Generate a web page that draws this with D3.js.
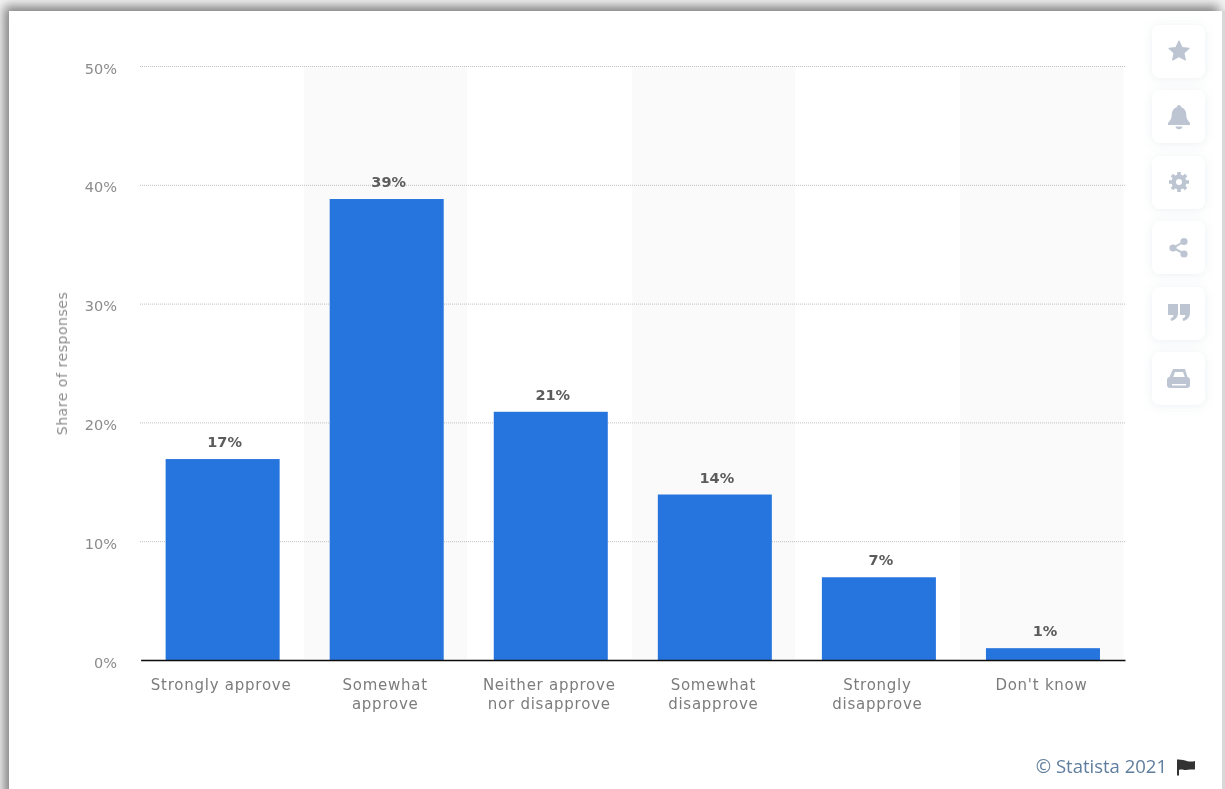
<!DOCTYPE html>
<html><head><meta charset="utf-8">
<script src="https://cdn.jsdelivr.net/npm/d3@7/dist/d3.min.js"></script>
<style>
html,body{margin:0;padding:0;background:#fff;overflow:hidden}
svg{display:block}
text{font-family:"DejaVu Sans",sans-serif}
</style></head><body>
<svg id="c" width="1225" height="789"></svg>
<script>
const categories=["Strongly approve","Somewhat approve","Neither approve nor disapprove","Somewhat disapprove","Strongly disapprove","Don't know"];
const categoryLines=[["Strongly approve"],["Somewhat","approve"],["Neither approve","nor disapprove"],["Somewhat","disapprove"],["Strongly","disapprove"],["Don't know"]];
const values=[17,39,21,14,7,1];
const yTicks=[0,10,20,30,40,50];
const valueSuffix="%";
const sourceText="© Statista 2021";
const axisTitle="Share of responses";

const svg=d3.select("#c");
const defs=svg.append("defs");
const f=defs.append("filter").attr("id","frame").attr("filterUnits","userSpaceOnUse").attr("x",-60).attr("y",-60).attr("width",1345).attr("height",909);
f.append("feGaussianBlur").attr("stdDeviation",5.5);
const sh=defs.append("filter").attr("id","btn").attr("x","-40%").attr("y","-40%").attr("width","180%").attr("height","180%");
sh.append("feDropShadow").attr("dx",0).attr("dy",1).attr("stdDeviation",5).attr("flood-color","#8a97a8").attr("flood-opacity",.16);
const soft=defs.append("filter").attr("id","soft").attr("x","-2%").attr("y","-2%").attr("width","104%").attr("height","104%");
soft.append("feGaussianBlur").attr("stdDeviation",.45);

// window frame: a soft shadow around the white page
svg.append("rect").attr("width",1225).attr("height",789).attr("fill","#f4f4f4");
svg.append("rect").attr("x",4).attr("y",6).attr("width",1215).attr("height",810).attr("fill","#808080").attr("filter","url(#frame)");
svg.append("rect").attr("x",9).attr("y",11).attr("width",1213).attr("height",790).attr("fill","#fff");
svg.append("rect").attr("x",1222).attr("y",11).attr("width",3).attr("height",778).attr("fill","#d8d8d8");

const x=d3.scaleBand().domain(categories).range([140.6,1125]).paddingInner(0.305).paddingOuter(0.1525);
const y=d3.scaleLinear().domain([0,50]).range([660.5,66.5]);
const barY=d3.scaleLinear().domain([0,50]).range([660,69]);
const step=x.step();
const g=svg.append("g").attr("filter","url(#soft)");

// alternate bands
g.selectAll(".band").data(categories.filter((d,i)=>i%2==1)).join("rect")
 .attr("x",d=>x(d)-(step-x.bandwidth())/2-.6).attr("y",y(50)).attr("width",step-1).attr("height",y(0)-y(50)).attr("fill","#fafafa");

// y axis + gridlines
const ya=g.append("g").attr("transform","translate(140,0)").call(d3.axisLeft(y).tickValues(yTicks).tickFormat(d=>d+valueSuffix).tickSize(0).tickPadding(23));
ya.select(".domain").remove();
ya.selectAll("text").attr("font-size",14.5).attr("dy","0.45em").attr("fill","#8b8b8b").style("font-family",'"DejaVu Sans",sans-serif');
g.selectAll(".grid").data(yTicks.filter(d=>d>0)).join("line")
 .attr("x1",140).attr("x2",1125).attr("y1",d=>y(d)).attr("y2",d=>y(d))
 .attr("stroke","#c0c0c0").attr("stroke-width",1).attr("stroke-dasharray","1 1");

// bars
g.selectAll(".bar").data(values).join("rect")
 .attr("x",(d,i)=>x(categories[i])).attr("y",d=>barY(d)).attr("width",x.bandwidth()).attr("height",d=>barY(0)-barY(d)).attr("fill","#2775de");

// value labels
g.selectAll(".val").data(values).join("text")
 .attr("x",(d,i)=>x(categories[i])+x.bandwidth()/2+2).attr("y",d=>barY(d)-12)
 .attr("text-anchor","middle").attr("font-size",14.5).attr("font-weight",700).attr("fill","#5c5c5c")
 .text(d=>d+valueSuffix);

// x axis
const xa=g.append("g").attr("transform","translate(0,660)").call(d3.axisBottom(x).tickSize(0).tickFormat(""));
xa.select(".domain").attr("stroke","#111").attr("stroke-width",1.6);
xa.selectAll(".tick text").remove();
g.selectAll(".xl").data(categories).join("text")
 .attr("text-anchor","middle").attr("font-size",15).attr("letter-spacing",".75").attr("fill","#7c7c7c")
 .each(function(d,i){
   d3.select(this).selectAll("tspan").data(categoryLines[i]).join("tspan")
     .attr("x",x(d)+x.bandwidth()/2-1.500).attr("y",(l,j)=>690+j*19).text(l=>l);
 });

// axis title
g.append("text").attr("transform","translate(67,363.5) rotate(-90)").attr("text-anchor","middle")
 .attr("font-size",14).attr("letter-spacing",".55").attr("fill","#8b8b8b").text(axisTitle);

// source
g.append("text").attr("x",1167).attr("y",773).attr("text-anchor","end").attr("font-size",18.5).attr("fill","#5f7d9c").style("font-family",'"Open Sans",sans-serif').text(sourceText);
g.append("path").attr("d","M1177 759.500v16h2v-5.500c3-1.500 5 .8 8.500-.2 1.500-.5 7.500-.3 7.500-.3v-8.500c-2 .6-5 .9-7.500.2-3.500-1-6.500-2-10.500-1.700z").attr("fill","#333");

// toolbar
const btnY=[25,90,156,221,287,352];
const btns=svg.append("g");
btns.selectAll("rect").data(btnY).join("rect").attr("x",1152).attr("y",d=>d).attr("width",53).attr("height",53).attr("rx",8).attr("fill","#fff").attr("filter","url(#btn)");
const ic="#bcc5d1";
const ig=svg.append("g").attr("fill",ic).attr("filter","url(#soft)");
ig.append("path").attr("d","M1179 41l3 6.500 7 .8-5.200 4.700 1.500 7-6.300-3.600-6.300 3.600 1.500-7-5.200-4.700 7-.8z").attr("stroke",ic).attr("stroke-width",1.2).attr("stroke-linejoin","round");
ig.append("path").attr("d","M1179 105c1.200 0 2.200 1 2.200 2.200 3.300 1 5 3.800 5 7.300 0 3.500 1.300 6 3.800 8.500v2h-22v-2c2.500-2.500 3.800-5 3.800-8.500 0-3.500 1.700-6.300 5-7.300 0-1.200 1-2.200 2.200-2.200zM1175.500 126.500h7c0 1.600-1.500 2.800-3.500 2.800s-3.500-1.200-3.500-2.800z");
ig.append("path").attr("d",d3.arc()({innerRadius:3,outerRadius:7.5,startAngle:0,endAngle:2*Math.PI})).attr("transform","translate(1179,182)");
ig.selectAll(".tooth").data(d3.range(8)).join("rect").attr("x",-1.8).attr("y",-10).attr("width",3.6).attr("height",4).attr("transform",d=>`translate(1179,182) rotate(${d*45})`);
ig.append("path").attr("d","M1185 241L1173 248L1185 254").attr("fill","none").attr("stroke",ic).attr("stroke-width",2);
[[1184,241.500],[1173,248],[1184,254]].forEach(p=>ig.append("circle").attr("cx",p[0]).attr("cy",p[1]).attr("r",3.6));
[1168,1180].forEach(q=>ig.append("path").attr("d",`M${q} 304h10v9c0 4-2.800 7-6.500 8l-1.200-2.200c2-.8 3.200-2.300 3.200-3.800h-5.500z`));
ig.append("path").attr("fill-rule","evenodd").attr("d","M1173 369h12l2.500 8c1.800.4 2.500 1.500 2.500 3v5c0 1.600-1 3-3 3h-17c-2 0-3-1.400-3-3v-5c0-1.500.7-2.600 2.500-3zM1175 372l-1.800 5h11.600l-1.800-5zM1172 384v1.500h14V384z");
</script>
</body></html>
